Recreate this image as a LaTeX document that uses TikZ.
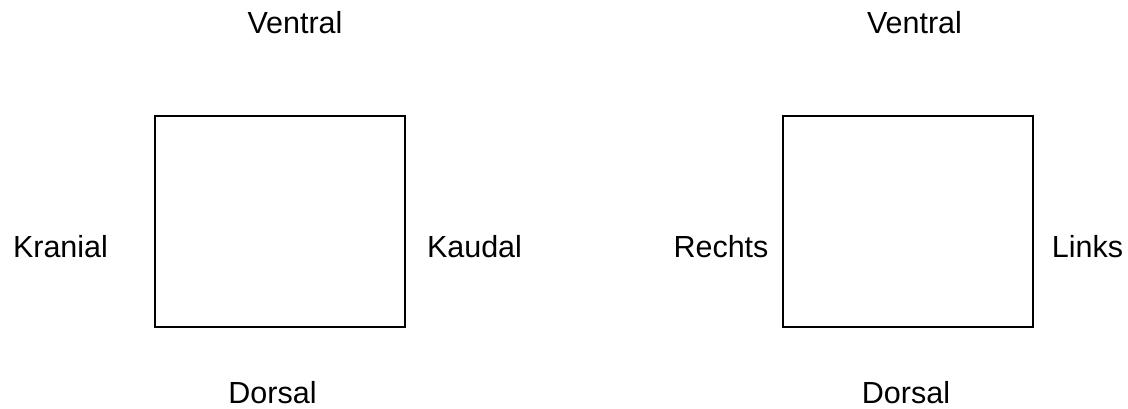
\documentclass[tikz,border=0pt]{standalone}
\usepackage{fontspec}
\setmainfont{Liberation Sans}
\begin{document}
\begin{tikzpicture}[x=1pt,y=-1pt,
  lbl/.style={anchor=base,inner sep=0pt,font=\fontsize{30.5}{36}\selectfont},
  frame/.style={draw=black,line width=1.6pt,inner sep=0pt,minimum width=250pt,minimum height=211pt}]
\useasboundingbox (0,0) rectangle (1128,409);
% left view
\node[frame] (boxL) at (280,221.5) {};
\node[lbl] (ventralL) at (295,34) {Ventral};
\node[lbl] (dorsalL) at (272.5,403) {Dorsal};
\node[lbl] (kranial) at (60.5,257) {Kranial};
\node[lbl] (kaudal) at (474.5,257) {Kaudal};
% right view
\node[frame] (boxR) at (908,221.5) {};
\node[lbl] (ventralR) at (914.5,34) {Ventral};
\node[lbl] (dorsalR) at (906,403) {Dorsal};
\node[lbl] (rechts) at (721,257) {Rechts};
\node[lbl] (links) at (1087.5,257) {Links};
\end{tikzpicture}
\end{document}
